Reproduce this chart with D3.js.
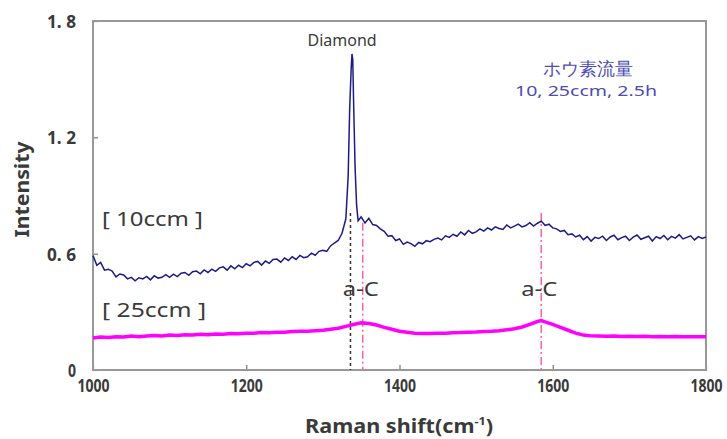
<!DOCTYPE html>
<html>
<head>
<meta charset="utf-8">
<script src="https://cdn.jsdelivr.net/npm/d3@7"></script>
<style>
  body { margin: 0; background: #fff; }
  text { font-family: "Noto Sans", "DejaVu Sans", sans-serif; fill: #3a3a3a; }
</style>
</head>
<body>
<div id="chart"></div>
<script>
var svgWidth = 727;
var svgHeight = 439;

var margin = { top: 21, right: 21, bottom: 69, left: 93 };
var width = svgWidth - margin.left - margin.right;
var height = svgHeight - margin.top - margin.bottom;

// Data
var xTicks = [1000, 1200, 1400, 1600, 1800];
var yTicks = [0, 0.6, 1.2, 1.8];
var yTickLabels = ["0", "0. 6", "1. 2", "1. 8"];

// 10ccm spectrum (blue)
var shift10 = [1000,1005,1010,1015,1020,1025,1030,1035,1040,1045,1050,1055,1060,1065,1070,1075,1080,1085,1090,1095,
  1100,1105,1110,1115,1120,1125,1130,1135,1140,1145,1150,1155,1160,1165,1170,1175,1180,1185,1190,1195,
  1200,1205,1210,1215,1220,1225,1230,1235,1240,1245,1250,1255,1260,1265,1270,1275,1280,1285,1290,1295,
  1300,1305,1310,1315,1320,1325,1330,1333,1335,1337,1338,1339,1340,1342,1344,1346,1350,1355,1360,1365,
  1370,1375,1380,1385,1390,1395,1400,1405,1410,1415,1420,1425,1430,1435,1440,1445,1450,1455,1460,1465,
  1470,1475,1480,1485,1490,1495,1500,1505,1510,1515,1520,1525,1530,1535,1540,1545,1550,1555,1560,1565,
  1570,1575,1580,1585,1590,1595,1600,1605,1610,1615,1620,1625,1630,1635,1640,1645,1650,1655,1660,1665,
  1670,1675,1680,1685,1690,1695,1700,1705,1710,1715,1720,1725,1730,1735,1740,1745,1750,1755,1760,1765,
  1770,1775,1780,1785,1790,1795,1800];
var int10 = [0.59,0.54,0.555,0.515,0.52,0.51,0.48,0.495,0.49,0.47,0.478,0.46,0.476,0.47,0.483,0.465,0.486,0.474,0.478,0.492,
  0.478,0.494,0.482,0.499,0.503,0.488,0.507,0.51,0.496,0.516,0.503,0.52,0.509,0.527,0.532,0.515,0.537,0.522,0.54,0.528,
  0.548,0.537,0.555,0.56,0.541,0.562,0.55,0.57,0.572,0.556,0.578,0.565,0.584,0.57,0.591,0.579,0.584,0.603,0.592,0.612,
  0.618,0.612,0.64,0.655,0.668,0.705,0.78,1.00,1.35,1.56,1.63,1.60,1.40,1.05,0.85,0.77,0.79,0.758,0.782,0.75,
  0.745,0.728,0.715,0.69,0.693,0.668,0.676,0.648,0.66,0.652,0.638,0.658,0.651,0.667,0.662,0.674,0.68,0.671,0.692,0.684,
  0.70,0.69,0.712,0.697,0.72,0.705,0.712,0.728,0.716,0.733,0.722,0.738,0.73,0.725,0.748,0.733,0.742,0.752,0.738,0.745,
  0.76,0.742,0.757,0.768,0.746,0.752,0.733,0.728,0.715,0.72,0.698,0.702,0.686,0.695,0.672,0.688,0.665,0.684,0.678,0.69,
  0.668,0.686,0.695,0.672,0.683,0.69,0.668,0.685,0.696,0.674,0.682,0.69,0.665,0.688,0.678,0.694,0.672,0.689,0.68,0.698,
  0.676,0.684,0.692,0.671,0.688,0.679,0.686];

// 25ccm spectrum (magenta)
var shift25 = [1000,1010,1020,1030,1040,1050,1060,1070,1080,1090,1100,1110,1120,1130,1140,1150,1160,1170,1180,1190,
  1200,1210,1220,1230,1240,1250,1260,1270,1280,1290,1300,1310,1320,1330,1340,1350,1360,1370,1380,1390,
  1400,1410,1420,1430,1440,1450,1460,1470,1480,1490,1500,1510,1520,1530,1540,1550,1560,1570,1580,1585,
  1590,1600,1610,1620,1630,1640,1650,1660,1670,1680,1690,1700,1710,1720,1730,1740,1750,1760,1770,1780,
  1790,1800];
var int25 = [0.165,0.17,0.168,0.172,0.17,0.175,0.172,0.175,0.178,0.176,0.18,0.178,0.182,0.18,0.184,0.182,0.186,0.185,0.188,0.187,
  0.19,0.19,0.193,0.192,0.195,0.195,0.198,0.2,0.2,0.203,0.205,0.21,0.215,0.225,0.235,0.243,0.24,0.232,0.22,0.21,
  0.2,0.195,0.19,0.188,0.188,0.19,0.19,0.192,0.193,0.195,0.196,0.198,0.2,0.203,0.207,0.213,0.222,0.235,0.25,0.255,
  0.248,0.235,0.22,0.205,0.19,0.18,0.176,0.175,0.174,0.175,0.173,0.174,0.173,0.174,0.172,0.173,0.172,0.173,0.171,0.172,
  0.171,0.172];

// reference lines: [position, top intensity]
var diamondLine = [1336, 0.81];
var acLines = [[1352, 0.76], [1585, 0.81]];
var acLabels = [1352, 1585];

var svg = d3.select("#chart")
  .append("svg")
  .attr("width", svgWidth)
  .attr("height", svgHeight);

var chartGroup = svg.append("g")
  .attr("transform", `translate(${margin.left}, ${margin.top})`);

var xScale = d3.scaleLinear().domain([1000, 1800]).range([0, width]);
var yScale = d3.scaleLinear().domain([0, 1.8]).range([height, 0]);

// axes (ticks point inward)
var bottomAxis = d3.axisBottom(xScale).tickValues(xTicks).tickSize(-5).tickPadding(11).tickFormat(d3.format("d"));
var leftAxis = d3.axisLeft(yScale).tickValues(yTicks).tickSize(-5).tickPadding(17)
  .tickFormat((d, i) => yTickLabels[i]);

var xAxisG = chartGroup.append("g")
  .attr("transform", `translate(0, ${height})`)
  .call(bottomAxis);
var yAxisG = chartGroup.append("g").call(leftAxis);

[xAxisG, yAxisG].forEach(function(g) {
  g.select(".domain").remove();
  g.selectAll(".tick line").attr("stroke", "#777").attr("stroke-width", 1.2);
  g.selectAll(".tick text")
    .attr("fill", "#333")
    .attr("font-size", "18px")
    .attr("font-weight", "bold")
    .attr("font-family", "'DejaVu Sans Condensed', 'DejaVu Sans', sans-serif")
    .attr("lengthAdjust", "spacingAndGlyphs");
});
xAxisG.selectAll(".tick text").attr("textLength", 32).attr("dy", "0.62em");
yAxisG.selectAll(".tick text").attr("textLength", d => d === 0 ? 8 : 29).attr("dy", "0.36em");

// frame
chartGroup.append("rect")
  .attr("width", width)
  .attr("height", height)
  .attr("fill", "none")
  .attr("stroke", "#999")
  .attr("stroke-width", 2);

// vertical marker lines
chartGroup.append("line")
  .attr("x1", xScale(diamondLine[0])).attr("x2", xScale(diamondLine[0]))
  .attr("y1", yScale(diamondLine[1])).attr("y2", height)
  .attr("stroke", "#333")
  .attr("stroke-width", 1.5)
  .attr("stroke-dasharray", "3,3");

chartGroup.selectAll(".acLine")
  .data(acLines)
  .enter()
  .append("line")
  .attr("class", "acLine")
  .attr("x1", d => xScale(d[0])).attr("x2", d => xScale(d[0]))
  .attr("y1", d => yScale(d[1])).attr("y2", height)
  .attr("stroke", "#ff5fa8")
  .attr("stroke-width", 1.5)
  .attr("stroke-dasharray", "8,3,2,3");

// spectra
var line = d3.line()
  .x(d => xScale(d[0]))
  .y(d => yScale(d[1]));

chartGroup.append("path")
  .datum(d3.zip(shift25, int25))
  .attr("d", line)
  .attr("fill", "none")
  .attr("stroke", "#ff00ff")
  .attr("stroke-width", 3.5);

chartGroup.append("path")
  .datum(d3.zip(shift10, int10))
  .attr("d", line)
  .attr("fill", "none")
  .attr("stroke", "#1c1c86")
  .attr("stroke-width", 1.5);

// annotations
chartGroup.append("text")
  .attr("x", xScale(1325))
  .attr("y", 25)
  .attr("text-anchor", "middle")
  .attr("font-size", "16px")
  .text("Diamond");

chartGroup.selectAll(".acText")
  .data(acLabels)
  .enter()
  .append("text")
  .attr("class", "acText")
  .attr("x", d => xScale(d) - 2)
  .attr("y", yScale(0.38))
  .attr("text-anchor", "middle")
  .attr("font-size", "19px")
  .attr("textLength", 36)
  .attr("lengthAdjust", "spacingAndGlyphs")
  .text("a-C");

chartGroup.append("text")
  .attr("x", 9)
  .attr("y", yScale(0.745))
  .attr("font-size", "19px")
  .attr("textLength", 101)
  .attr("lengthAdjust", "spacingAndGlyphs")
  .text("[ 10ccm ]");

chartGroup.append("text")
  .attr("x", 9)
  .attr("y", yScale(0.275))
  .attr("font-size", "19px")
  .attr("textLength", 104)
  .attr("lengthAdjust", "spacingAndGlyphs")
  .text("[ 25ccm ]");

chartGroup.append("text")
  .attr("x", 495)
  .attr("y", 54)
  .attr("text-anchor", "middle")
  .attr("font-size", "18px")
  .attr("font-family", "'Noto Sans CJK JP', sans-serif")
  .style("fill", "#4c4cb4")
  .text("ホウ素流量");

chartGroup.append("text")
  .attr("x", 493)
  .attr("y", 75)
  .attr("text-anchor", "middle")
  .attr("font-size", "15px")
  .attr("font-family", "'Noto Sans CJK JP', sans-serif")
  .attr("textLength", 142)
  .attr("lengthAdjust", "spacingAndGlyphs")
  .style("fill", "#4c4cb4")
  .text("10, 25ccm, 2.5h");

// axis titles
svg.append("text")
  .attr("transform", `translate(29, ${margin.top + height / 2 - 6}) rotate(-90)`)
  .attr("text-anchor", "middle")
  .attr("font-size", "20px")
  .attr("font-weight", "bold")
  .attr("font-family", "'DejaVu Sans Condensed', 'DejaVu Sans', sans-serif")
  .attr("textLength", 96)
  .attr("lengthAdjust", "spacingAndGlyphs")
  .text("Intensity");

var xTitle = svg.append("text")
  .attr("x", 399)
  .attr("y", 433)
  .attr("text-anchor", "middle")
  .attr("font-size", "19px")
  .attr("font-weight", "bold")
  .attr("font-family", "'DejaVu Sans Condensed', 'DejaVu Sans', sans-serif")
  .attr("textLength", 188)
  .attr("lengthAdjust", "spacingAndGlyphs");
xTitle.append("tspan").text("Raman shift(cm");
xTitle.append("tspan").attr("dy", -8).attr("font-size", "11px").text("-1");
xTitle.append("tspan").attr("dy", 8).text(")");
</script>
</body>
</html>
